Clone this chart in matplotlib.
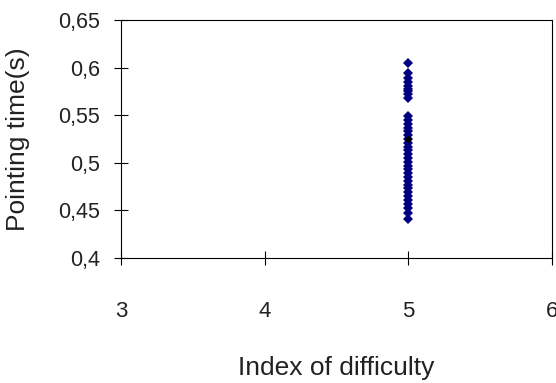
import matplotlib
matplotlib.use("Agg")
from matplotlib import pyplot as plt
from matplotlib.ticker import FuncFormatter

plt.rcParams['font.family'] = ['Liberation Sans Narrow', 'Liberation Sans', 'DejaVu Sans']

# every trial sits at ID = 5
pointing_times = [0.605, 0.594, 0.589, 0.585, 0.581, 0.578, 0.575, 0.572, 0.568,
                  0.549, 0.545, 0.541, 0.537, 0.533, 0.529, 0.525, 0.521, 0.517,
                  0.513, 0.509, 0.505, 0.501, 0.497, 0.493, 0.489, 0.485, 0.481,
                  0.477, 0.473, 0.469, 0.465, 0.461, 0.457, 0.452, 0.447, 0.441]
difficulty = [5] * len(pointing_times)
mean_point = [5, 0.525]

x_ticks = [3, 4, 5, 6]
y_ticks = [0.4, 0.45, 0.5, 0.55, 0.6, 0.65]

fig = plt.figure(figsize=(5.56, 3.83), dpi=100)
ax = fig.add_axes([0.2176, 0.3264, 0.775, 0.6214])

ax.plot(difficulty, pointing_times, 'D', color='#000080', markersize=4.6,
        markeredgewidth=0, linestyle='none')
ax.plot(mean_point[0], mean_point[1], 'o', color='black', markersize=3.5)

ax.set_xlim(3, 6)
ax.set_ylim(0.4, 0.65)
ax.set_xticks(x_ticks)
ax.set_yticks(y_ticks)

comma = FuncFormatter(lambda v, p: ('%g' % v).replace('.', ','))
ax.xaxis.set_major_formatter(comma)
ax.yaxis.set_major_formatter(comma)

ax.tick_params(axis='x', direction='inout', length=10, width=0.8, pad=26,
               labelsize=16, labelcolor='#222222')
ax.tick_params(axis='y', direction='inout', length=10, width=0.8, pad=10,
               labelsize=15.5, labelcolor='#222222')
for sp in ax.spines.values():
    sp.set_linewidth(0.8)

ax.set_xlabel("Index of difficulty", fontsize=19, color='#222222')
ax.set_ylabel("Pointing time(s)", fontsize=19, color='#222222')
ax.xaxis.set_label_coords(0.5, -0.41)
ax.yaxis.set_label_coords(-0.21, 0.5)

fig.savefig("out.png", dpi=100)
